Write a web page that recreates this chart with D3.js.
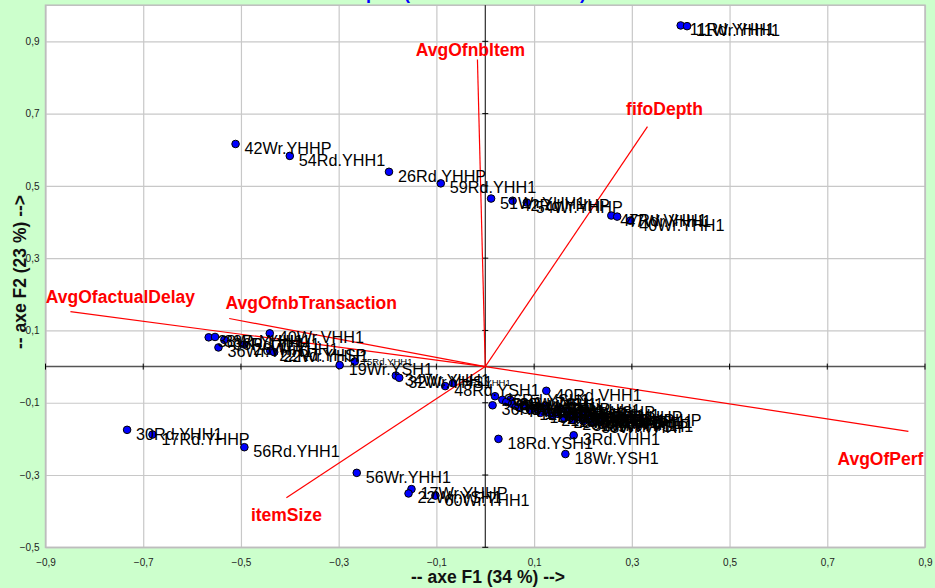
<!DOCTYPE html>
<html><head><meta charset="utf-8">
<script src="https://cdn.jsdelivr.net/npm/d3@7"></script>
<style>
html,body{margin:0;padding:0;background:#ccffcc;}
svg{display:block;font-family:Arial,"Liberation Sans",sans-serif;}
</style></head>
<body>
<svg id="chart" width="935" height="588"></svg>
<script>
// ---- DATA ----
const chartTitle = "Biplot (axes F1 et F2 : 57 %)";
const xAxisTitle = "-- axe F1 (34 %) -->";
const yAxisTitle = "-- axe F2 (23 %) -->";
const xTicks = [-0.9, -0.7, -0.5, -0.3, -0.1, 0.1, 0.3, 0.5, 0.7, 0.9];
const yTicks = [-0.5, -0.3, -0.1, 0.1, 0.3, 0.5, 0.7, 0.9];

const varNames = ["AvgOfnbItem", "fifoDepth", "AvgOfactualDelay", "AvgOfnbTransaction", "AvgOfPerf", "itemSize"];
const varF1 = [-0.016, 0.332, -0.849, -0.524, 0.866, -0.407];
const varF2 = [0.850, 0.664, 0.152, 0.133, -0.179, -0.363];

const obsNames = [
  "11Rd.YHH1","11Wr.YHH1","42Wr.YHHP","54Rd.YHH1","26Rd.YHHP","59Rd.YHH1",
  "51Wr.YHH1","42Rd.YHHP","54Wr.YHHP","47Rd.VHH1","47Wr.YHH1","40Wr.YHH1",
  "38Wr.YHH1","38Rd.YHH1","36Rd.YHH1","36Wr.YHH1","26Wr.YHH1","40Wr.VHH1",
  "22Rd.YHSP","22Wr.YHH1","19Wr.YSH1","75Rd.YHH1","34Wr.YHH1","32Wr.YHS1",
  "48Rd.YSH1","45Rd.YHH1",
  "30Rd.YHH1","17Rd.YHHP","56Rd.YHH1","56Wr.YHH1","17Wr.YHHP","22Wr.YSH1","60Wr.YHH1",
  "40Rd.VHH1","18Rd.YSH1","3Rd.VHH1","18Wr.YSH1",
  "36Rd.YSH1","30Rd.YSH1","36Rd.YHSP","30Wr.YSH1",
  "3Wr.VHH1","5Rd.VSH1","7Rd.VHH1","9Wr.VSHP","12Rd.VHHP","14Wr.VSH1",
  "15Rd.YSHP","20Rd.VHH1","21Wr.VSH1","24Rd.VHHP","25Wr.VHH1","27Rd.VSH1",
  "28Wr.VHHP","29Rd.VSHP","31Wr.VHH1","33Rd.VSH1","35Wr.VHHP","37Rd.VHH1",
  "39Wr.VSH1","41Rd.VHHP","43Wr.VSHP","44Rd.VHH1","46Wr.VSH1","50Rd.VHHP"
];
const obsF1 = [
  0.400, 0.413, -0.511, -0.400, -0.197, -0.091,
  0.012, 0.056, 0.085, 0.258, 0.270, 0.297,
  -0.566, -0.553, -0.534, -0.546, -0.493, -0.441,
  -0.440, -0.432, -0.298, -0.267, -0.183, -0.176,
  -0.082, -0.066,
  -0.733, -0.681, -0.493, -0.263, -0.151, -0.157, -0.102,
  0.125, 0.027, 0.181, 0.164,
  0.020, 0.035, 0.015, 0.051,
  0.043, 0.055, 0.068, 0.080, 0.092, 0.104,
  0.113, 0.129, 0.137, 0.149, 0.162, 0.174,
  0.180, 0.190, 0.201, 0.211, 0.219, 0.229,
  0.235, 0.244, 0.153, 0.123, 0.166, 0.205
];
const obsF2 = [
  0.944, 0.942, 0.616, 0.583, 0.539, 0.507,
  0.465, 0.459, 0.454, 0.418, 0.415, 0.404,
  0.081, 0.082, 0.074, 0.053, 0.061, 0.092,
  0.044, 0.040, 0.004, 0.014, -0.025, -0.031,
  -0.054, -0.046,
  -0.175, -0.188, -0.223, -0.294, -0.339, -0.351, -0.357,
  -0.067, -0.200, -0.190, -0.242,
  -0.082, -0.092, -0.107, -0.092,
  -0.098, -0.103, -0.112, -0.106, -0.120, -0.117,
  -0.128, -0.126, -0.137, -0.131, -0.142, -0.139,
  -0.148, -0.137, -0.151, -0.145, -0.156, -0.142,
  -0.153, -0.137, -0.115, -0.109, -0.123, -0.128
];
const smallLabelNames = ["75Rd.YHH1", "45Rd.YHH1"];

// ---- LAYOUT ----
const svg = d3.select("#chart");
const W = 935, H = 588;
const plot = {left: 45.5, right: 925, top: 5.2, bottom: 547.3};
const x = d3.scaleLinear().domain([-0.9, 0.9]).range([plot.left, plot.right]);
const y = d3.scaleLinear().domain([-0.5, 1.0]).range([plot.bottom, plot.top]);
const fmt = d => d3.format(".1f")(d).replace(".", ",");

// background
svg.append("rect").attr("width", W).attr("height", H).attr("fill", "#ccffcc");

// chart title (mostly cut off at the top)
svg.append("text").attr("x", 348).attr("y", -1.5)
  .attr("text-anchor", "start").attr("font-size", 18).attr("font-weight", "bold")
  .attr("fill", "#0000ff").text(chartTitle);

// plot area
svg.append("rect").attr("x", plot.left).attr("y", plot.top)
  .attr("width", plot.right - plot.left).attr("height", plot.bottom - plot.top)
  .attr("fill", "#ffffff");

// gridlines via axes
const gx = svg.append("g").attr("transform", `translate(0,${plot.bottom})`)
  .call(d3.axisBottom(x).tickValues(xTicks).tickSize(-(plot.bottom - plot.top)).tickFormat(""));
gx.select(".domain").remove();
gx.selectAll("line").attr("stroke", "#c8c8c8").attr("stroke-width", 1.2);
const gy = svg.append("g").attr("transform", `translate(${plot.left},0)`)
  .call(d3.axisLeft(y).tickValues(yTicks).tickSize(-(plot.right - plot.left)).tickFormat(""));
gy.select(".domain").remove();
gy.selectAll("line").attr("stroke", "#c8c8c8").attr("stroke-width", 1.2);

// plot border
svg.append("rect").attr("x", plot.left).attr("y", plot.top)
  .attr("width", plot.right - plot.left).attr("height", plot.bottom - plot.top)
  .attr("fill", "none").attr("stroke", "#bdbdbd").attr("stroke-width", 1.5);

// tick labels
const lx = svg.append("g").attr("transform", `translate(0,${plot.bottom})`)
  .call(d3.axisBottom(x).tickValues(xTicks).tickSize(0).tickPadding(12).tickFormat(fmt));
lx.select(".domain").remove();
lx.selectAll("text").attr("font-size", 10).attr("font-family", "Arial, 'Liberation Sans', sans-serif").attr("fill", "#222");
const ly = svg.append("g").attr("transform", `translate(${plot.left},0)`)
  .call(d3.axisLeft(y).tickValues(yTicks).tickSize(0).tickPadding(6).tickFormat(fmt));
ly.select(".domain").remove();
ly.selectAll("text").attr("font-size", 10).attr("font-family", "Arial, 'Liberation Sans', sans-serif").attr("fill", "#222");

// zero axes with crossing tick marks
const x0 = x(0), y0 = y(0);
svg.append("line").attr("x1", plot.left).attr("x2", plot.right).attr("y1", y0).attr("y2", y0)
  .attr("stroke", "#555").attr("stroke-width", 1.5);
svg.append("line").attr("x1", x0).attr("x2", x0).attr("y1", plot.top).attr("y2", plot.bottom)
  .attr("stroke", "#000").attr("stroke-width", 1);
svg.append("g").selectAll("line").data(xTicks).join("line")
  .attr("x1", d => x(d)).attr("x2", d => x(d)).attr("y1", y0 - 3).attr("y2", y0 + 3)
  .attr("stroke", "#000").attr("stroke-width", 1);
svg.append("g").selectAll("line").data(yTicks).join("line")
  .attr("y1", d => y(d)).attr("y2", d => y(d)).attr("x1", x0 - 3).attr("x2", x0 + 3)
  .attr("stroke", "#000").attr("stroke-width", 1);

// axis titles
svg.append("text").attr("x", 488).attr("y", 583).attr("text-anchor", "middle")
  .attr("font-size", 17.5).attr("font-weight", "bold").attr("fill", "#111").text(xAxisTitle);
svg.append("text").attr("transform", "translate(26,272) rotate(-90)").attr("text-anchor", "middle")
  .attr("font-size", 17.5).attr("font-weight", "bold").attr("fill", "#111").text(yAxisTitle);

// variable vectors
const vars = varNames.map((n, i) => ({name: n, f1: varF1[i], f2: varF2[i]}));
const vecLabelOffset = {
  "AvgOfnbItem": [-7, -3], "fifoDepth": [17, -12], "AvgOfactualDelay": [50, -9],
  "AvgOfnbTransaction": [82, -10], "AvgOfPerf": [-28, 34], "itemSize": [0, 23]
};
svg.append("g").selectAll("line").data(vars).join("line")
  .attr("x1", x0).attr("y1", y0).attr("x2", d => x(d.f1)).attr("y2", d => y(d.f2))
  .attr("stroke", "#ff0000").attr("stroke-width", 1.2);

// observations
const obs = obsNames.map((n, i) => ({name: n, f1: obsF1[i], f2: obsF2[i], small: smallLabelNames.includes(n)}));
svg.append("g").selectAll("circle").data(obs).join("circle")
  .attr("cx", d => x(d.f1)).attr("cy", d => y(d.f2)).attr("r", 3.8)
  .attr("fill", "#0000ff").attr("stroke", "#000").attr("stroke-width", 1);
svg.append("g").selectAll("text").data(obs).join("text")
  .attr("x", d => x(d.f1) + (d.small ? 7 : 9)).attr("y", d => y(d.f2) + (d.small ? 3 : 10))
  .attr("font-size", d => d.small ? 9.5 : 16.2).attr("fill", "#000").text(d => d.name);

// vector labels
svg.append("g").selectAll("text").data(vars).join("text")
  .attr("x", d => x(d.f1) + vecLabelOffset[d.name][0])
  .attr("y", d => y(d.f2) + vecLabelOffset[d.name][1])
  .attr("text-anchor", "middle").attr("font-size", 17.5).attr("font-weight", "bold")
  .attr("fill", "#ff0000").text(d => d.name);
</script>
</body></html>
